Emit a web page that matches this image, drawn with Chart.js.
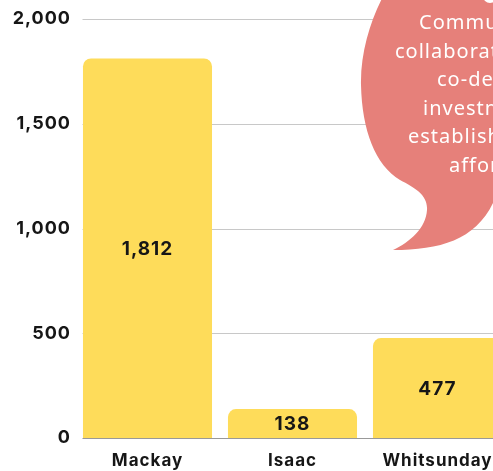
<!DOCTYPE html>
<html>
<head>
<meta charset="utf-8">
<script src="https://cdn.jsdelivr.net/npm/chart.js@4"></script>
<style>
  body { margin: 0; overflow: hidden; background: #fff; }
  #wrap { position: relative; width: 530px; height: 471px; }
</style>
</head>
<body>
<div id="wrap"><canvas id="regionChart"></canvas></div>
<script>
// data
const regions = ["Mackay", "Isaac", "Whitsunday"];
const counts = [1812, 138, 477];
const yTicks = [0, 500, 1000, 1500, 2000];
const bubbleLines = ["Community", "collaboration", "co-design", "investment", "establishing", "affordable"];
const bubbleStarts = [419, 395, 437, 423, 408, 449];

const barColor = "#fedc5a";
const bubbleColor = "#e6807a";
const inkColor = "#161616";

// a touch of tracking so Inter is as wide as the original face
const spacing = {
  id: "spacing",
  beforeDraw(chart) { chart.ctx.letterSpacing = "1px"; }
};

// horizontal gridlines, starting at the left edge of the first bar
const gridLines = {
  id: "gridLines",
  beforeDatasetsDraw(chart) {
    const ctx = chart.ctx;
    const y = chart.scales.y;
    const x0 = chart.getDatasetMeta(0).data[0];
    const left = Math.round(x0.x - x0.width / 2) - 0.5;
    ctx.save();
    ctx.lineWidth = 1;
    yTicks.forEach(v => {
      const py = Math.round(y.getPixelForValue(v)) + 0.5;
      ctx.strokeStyle = v === 0 ? "#999" : "#c8c8c8";
      ctx.beginPath();
      ctx.moveTo(left, py);
      ctx.lineTo(chart.width, py);
      ctx.stroke();
    });
    ctx.restore();
  }
};

// value labels centred inside each bar
const barLabels = {
  id: "barLabels",
  afterDatasetsDraw(chart) {
    const ctx = chart.ctx;
    const meta = chart.getDatasetMeta(0);
    ctx.save();
    ctx.fillStyle = inkColor;
    ctx.font = "bold 19px Inter";
    ctx.textAlign = "center";
    ctx.textBaseline = "middle";
    meta.data.forEach((bar, i) => {
      ctx.fillText(counts[i].toLocaleString("en-US"), bar.x, (bar.y + bar.base) / 2 + 1);
    });
    ctx.restore();
  }
};

// the speech bubble over the top right corner
const bubble = {
  id: "bubble",
  afterDraw(chart) {
    const ctx = chart.ctx;
    ctx.save();
    ctx.fillStyle = bubbleColor;
    ctx.beginPath();
    ctx.moveTo(400, -30);
    ctx.bezierCurveTo(380, -5, 360, 40, 361, 85);
    ctx.bezierCurveTo(362, 130, 375, 165, 400, 180);
    ctx.bezierCurveTo(415, 188, 428, 195, 427, 210);
    ctx.bezierCurveTo(426, 228, 410, 242, 393, 250);
    ctx.bezierCurveTo(440, 250, 475, 240, 493, 203);
    ctx.bezierCurveTo(510, 180, 530, 100, 530, -30);
    ctx.closePath();
    ctx.fill();
    // small white dot peeking in at the top
    ctx.fillStyle = "#fff";
    ctx.beginPath();
    ctx.arc(490, -4, 7, 0, Math.PI * 2);
    ctx.fill();

    ctx.letterSpacing = "1px";
    ctx.font = "20px 'Noto Sans'";
    ctx.textAlign = "left";
    ctx.textBaseline = "alphabetic";
    bubbleLines.forEach((t, i) => ctx.fillText(t, bubbleStarts[i], 29 + i * 28.6));
    ctx.restore();
  }
};

new Chart("regionChart", {
  type: "bar",
  data: {
    labels: regions,
    datasets: [{
      data: counts,
      backgroundColor: barColor,
      borderRadius: { topLeft: 8, topRight: 8 },
      borderSkipped: "bottom",
      barPercentage: 0.89,
      categoryPercentage: 1
    }]
  },
  options: {
    responsive: true,
    maintainAspectRatio: false,
    animation: false,
    events: [],
    layout: { autoPadding: false, padding: { top: 19, right: 20, left: 0, bottom: 0 } },
    plugins: { legend: { display: false }, tooltip: { enabled: false } },
    scales: {
      x: {
        afterFit: axis => { axis.height = 33; },
        grid: { display: false, drawTicks: false },
        border: { display: false },
        ticks: { color: inkColor, font: { family: "Inter", size: 17, weight: "bold" }, padding: 13 }
      },
      y: {
        min: 0,
        max: 2000,
        afterBuildTicks: axis => { axis.ticks = yTicks.map(v => ({ value: v })); },
        afterFit: axis => { axis.width = 75; },
        grid: { display: false, drawTicks: false },
        border: { display: false },
        ticks: {
          color: inkColor,
          font: { family: "Inter", size: 18, weight: "bold" },
          padding: 4,
          callback: v => v.toLocaleString("en-US")
        }
      }
    }
  },
  plugins: [spacing, gridLines, barLabels, bubble]
});
</script>
</body>
</html>
